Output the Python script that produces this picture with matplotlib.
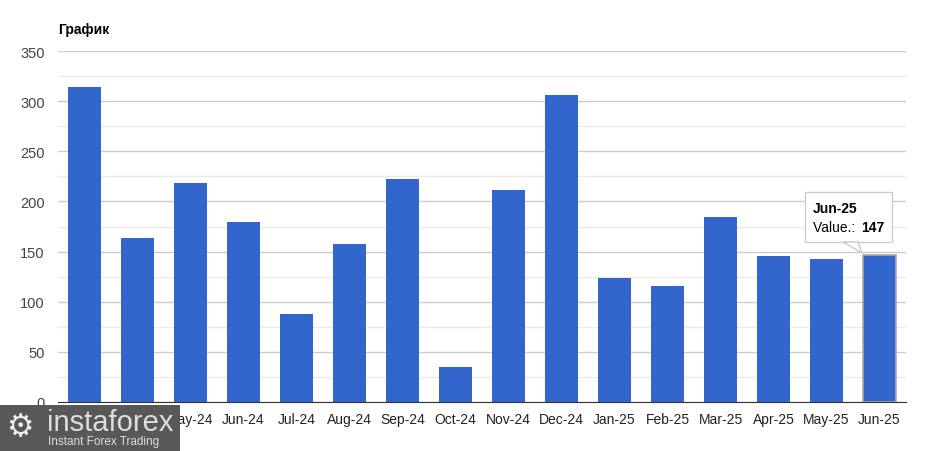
import numpy as np
import matplotlib.pyplot as plt
from matplotlib.patches import FancyBboxPatch, Polygon

plt.rcParams['font.family'] = ['Liberation Sans', 'DejaVu Sans']

months = ["Mar-24", "Apr-24", "May-24", "Jun-24", "Jul-24", "Aug-24", "Sep-24", "Oct-24",
          "Nov-24", "Dec-24", "Jan-25", "Feb-25", "Mar-25", "Apr-25", "May-25", "Jun-25"]
values = [314, 164, 218, 179, 88, 158, 222, 35, 211, 306, 124, 116, 184, 146, 143, 147]

fig = plt.figure(figsize=(9.4, 4.52), dpi=100)
ax = fig.add_axes([58/940, 49/452, 848/940, 351/452])

x = np.arange(len(values))
bars = ax.bar(x, values, width=0.61, color="#3366cc", zorder=3)
# hovered bar
bars[-1].set_edgecolor("#aaaaaa")
bars[-1].set_linewidth(1.2)

ax.set_xlim(-0.5, len(values) - 0.5)
ax.set_ylim(0, 350)
ax.set_yticks(np.arange(0, 351, 50))
ax.set_yticks(np.arange(25, 350, 50), minor=True)
ax.grid(axis="y", which="major", color="#cccccc", linewidth=1, zorder=0)
ax.grid(axis="y", which="minor", color="#ebebeb", linewidth=1, zorder=0)
ax.set_xticks(x)
ax.set_xticklabels(months)
ax.tick_params(axis="both", which="both", length=0)
ax.tick_params(axis="y", colors="#444444", pad=9.5, labelsize=10.5)
ax.tick_params(axis="x", colors="#222222", pad=7, labelsize=10)
for s in ["top", "right", "left"]:
    ax.spines[s].set_visible(False)
ax.spines["bottom"].set_color("#333333")
ax.spines["bottom"].set_zorder(4)

fig.text(58/940, 1 - 30/452, "График", fontsize=10, fontweight="bold", va="center", ha="left")

# tooltip
tip = FancyBboxPatch((805/940, 1 - 243/452), 87/940, 50/452, boxstyle="square,pad=0",
                     transform=fig.transFigure, facecolor="white", edgecolor="#cccccc",
                     linewidth=1, zorder=10)
fig.patches.append(tip)
ptr = Polygon([(843/940, 1 - 243/452), (858/940, 1 - 243/452), (862/940, 1 - 254/452)],
              closed=True, transform=fig.transFigure, facecolor="white", edgecolor="#cccccc",
              linewidth=1, zorder=11)
fig.patches.append(ptr)
fig.text(813/940, 1 - 209/452, months[-1], fontsize=10, fontweight="bold", va="center", zorder=12)
fig.text(813/940, 1 - 228/452, "Value.: ", fontsize=10, va="center", zorder=12)
fig.text(861/940, 1 - 228/452, str(values[-1]), fontsize=10, fontweight="bold", va="center", zorder=12)

# logo
logo = FancyBboxPatch((0, 0), 180/940, 46/452, boxstyle="square,pad=0", transform=fig.transFigure,
                      facecolor="#585858", edgecolor="none", zorder=20)
fig.patches.append(logo)
fig.text(6/940, 1 - 428/452, "⚙", fontsize=22, color="#eeeeee", va="center", zorder=21,
         family=["DejaVu Sans"])
fig.text(47/940, 1 - 423/452, "instaforex", fontsize=21, color="#dddddd", va="center", zorder=21)
fig.text(48/940, 1 - 442/452, "Instant Forex Trading", fontsize=8.5, color="#dddddd", va="center", zorder=21)

fig.savefig("out.png", dpi=100)
